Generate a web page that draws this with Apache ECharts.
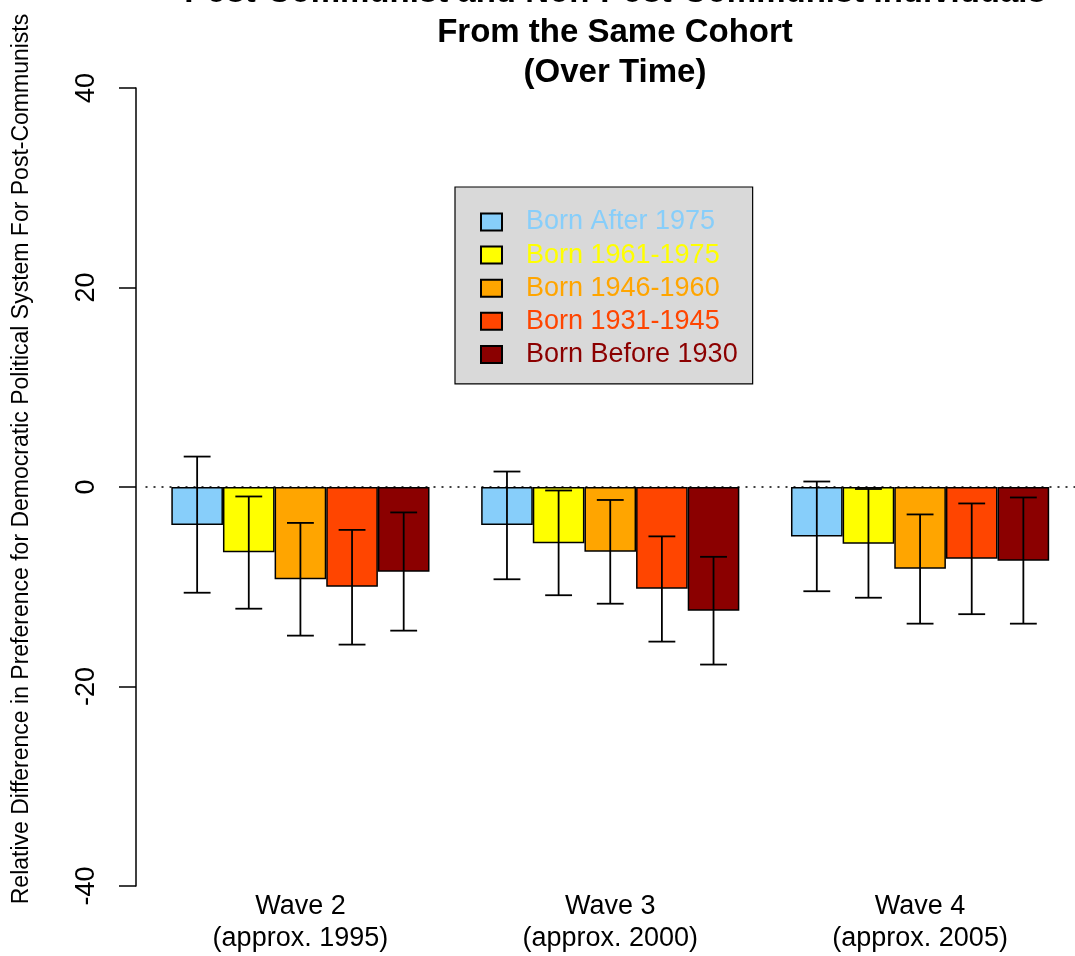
<!DOCTYPE html>
<html>
<head>
<meta charset="utf-8">
<script src="https://cdn.jsdelivr.net/npm/echarts@6/dist/echarts.min.js"></script>
<style>
  html, body { margin: 0; padding: 0; background: #fff; }
  #chart { width: 1075px; height: 956px; }
</style>
</head>
<body>
<div id="chart"></div>
<script>
// Survey waves (x categories)
const waves = ['Wave 2\n(approx. 1995)', 'Wave 3\n(approx. 2000)', 'Wave 4\n(approx. 2005)'];

// Birth cohorts and their fill colours
const cohorts = ['Born After 1975', 'Born 1961-1975', 'Born 1946-1960', 'Born 1931-1945', 'Born Before 1930'];
const cohortColors = ['#87CEFA', '#FFFF00', '#FFA500', '#FF4500', '#8B0000'];

// Estimated relative difference per cohort, one value per wave
const bornAfter1975 = [-3.8, -3.8, -4.95];
const born1961to1975 = [-6.55, -5.65, -5.7];
const born1946to1960 = [-9.25, -6.5, -8.2];
const born1931to1945 = [-10.0, -10.2, -7.2];
const bornBefore1930 = [-8.5, -12.4, -7.4];

// Confidence interval upper bounds, per cohort and wave
const upperAfter1975 = [3.05, 1.55, 0.55];
const upper1961to1975 = [-0.95, -0.35, -0.2];
const upper1946to1960 = [-3.6, -1.3, -2.75];
const upper1931to1945 = [-4.3, -4.95, -1.65];
const upperBefore1930 = [-2.55, -7.0, -1.05];

// Confidence interval lower bounds, per cohort and wave
const lowerAfter1975 = [-10.6, -9.25, -10.45];
const lower1961to1975 = [-12.2, -10.85, -11.1];
const lower1946to1960 = [-14.9, -11.7, -13.7];
const lower1931to1945 = [-15.8, -15.5, -12.75];
const lowerBefore1930 = [-14.4, -17.8, -13.7];

// Y axis ticks
const yTicks = [-40, -20, 0, 20, 40];

const titleLines = ['Post-Communist and Non-Post-Communist Individuals', 'From the Same Cohort', '(Over Time)'];
const yAxisTitle = 'Relative Difference in Preference for Democratic Political System For Post-Communists';

const values = [bornAfter1975, born1961to1975, born1946to1960, born1931to1945, bornBefore1930];
const uppers = [upperAfter1975, upper1961to1975, upper1946to1960, upper1931to1945, upperBefore1930];
const lowers = [lowerAfter1975, lower1961to1975, lower1946to1960, lower1931to1945, lowerBefore1930];

const FONT = '"Liberation Sans", Arial, Helvetica, sans-serif';
const nBars = cohorts.length;

// One row per error bar: [wave index, lower, upper, cohort index]
const errorData = [];
cohorts.forEach((c, ci) => {
  waves.forEach((w, wi) => {
    errorData.push([wi, lowers[ci][wi], uppers[ci][wi], ci]);
  });
});

const barSeries = cohorts.map((name, ci) => ({
  name: name,
  type: 'bar',
  data: values[ci],
  barGap: '0%',
  barCategoryGap: (100 / (nBars + 1)) + '%',
  itemStyle: { color: cohortColors[ci], borderColor: '#000', borderWidth: 1.5 },
  emphasis: { disabled: true },
  z: 2
}));

// Dotted reference line at zero
barSeries[0].markLine = {
  silent: true,
  symbol: ['none', 'none'],
  label: { show: false },
  lineStyle: { color: '#000', type: [2, 6], width: 1.5 },
  data: [{ yAxis: 0 }],
  z: 5
};

const errorSeries = {
  type: 'custom',
  name: 'ci',
  data: errorData,
  z: 6,
  renderItem: function (params, api) {
    const wi = api.value(0);
    const ci = api.value(3);
    const band = api.size([1, 0])[0];
    const barW = band / (nBars + 1);
    const center = api.coord([wi, 0])[0];
    const x = center + (ci - (nBars - 1) / 2) * barW;
    const yLo = api.coord([wi, api.value(1)])[1];
    const yHi = api.coord([wi, api.value(2)])[1];
    const half = barW * 0.26;
    const style = { stroke: '#000', lineWidth: 1.8 };
    return {
      type: 'group',
      children: [
        { type: 'line', shape: { x1: x, y1: yLo, x2: x, y2: yHi }, style: style },
        { type: 'line', shape: { x1: x - half, y1: yLo, x2: x + half, y2: yLo }, style: style },
        { type: 'line', shape: { x1: x - half, y1: yHi, x2: x + half, y2: yHi }, style: style }
      ]
    };
  }
};

const chart = echarts.init(document.getElementById('chart'), null, { renderer: 'canvas' });
chart.setOption({
  animation: false,
  backgroundColor: '#fff',
  textStyle: { fontFamily: FONT },
  title: {
    text: titleLines.join('\n'),
    left: 610,
    top: -32,
    textAlign: 'center',
    textStyle: { fontFamily: FONT, fontSize: 33, fontWeight: 'bold', color: '#000', lineHeight: 40 }
  },
  legend: {
    orient: 'vertical',
    left: 455,
    top: 187,
    padding: [21.5, 15, 16, 25],
    backgroundColor: '#D9D9D9',
    borderColor: '#000',
    borderWidth: 1.2,
    borderRadius: 0,
    itemWidth: 21,
    itemHeight: 17,
    itemGap: 6.1,
    icon: 'rect',
    selectedMode: false,
    data: cohorts.map((name, ci) => ({
      name: name,
      textStyle: { color: cohortColors[ci] }
    })),
    textStyle: { fontFamily: FONT, fontSize: 27, lineHeight: 17, padding: [0, 0, 0, 19] }
  },
  grid: { left: 145.5, top: 88, width: 930.6, bottom: 70, containLabel: false },
  xAxis: {
    type: 'category',
    data: waves,
    axisLine: { show: false },
    axisTick: { show: false },
    axisLabel: { fontFamily: FONT, fontSize: 27, lineHeight: 32, color: '#000', margin: 5, interval: 0 },
    splitLine: { show: false }
  },
  yAxis: {
    type: 'value',
    min: yTicks[0],
    max: yTicks[yTicks.length - 1],
    interval: 20,
    offset: 9.5,
    axisLine: { show: true, lineStyle: { color: '#000', width: 1.5 } },
    axisTick: { show: true, length: 17, lineStyle: { color: '#000', width: 1.5 } },
    axisLabel: { fontFamily: FONT, fontSize: 27, color: '#000', rotate: 90, margin: 36 },
    splitLine: { show: false }
  },
  graphic: [{
    type: 'text',
    x: 22,
    y: 459,
    rotation: Math.PI / 2,
    style: {
      text: yAxisTitle,
      fontFamily: FONT,
      fontSize: 23,
      fill: '#000',
      align: 'center',
      verticalAlign: 'middle'
    }
  }],
  series: barSeries.concat([errorSeries])
});
</script>
</body>
</html>
